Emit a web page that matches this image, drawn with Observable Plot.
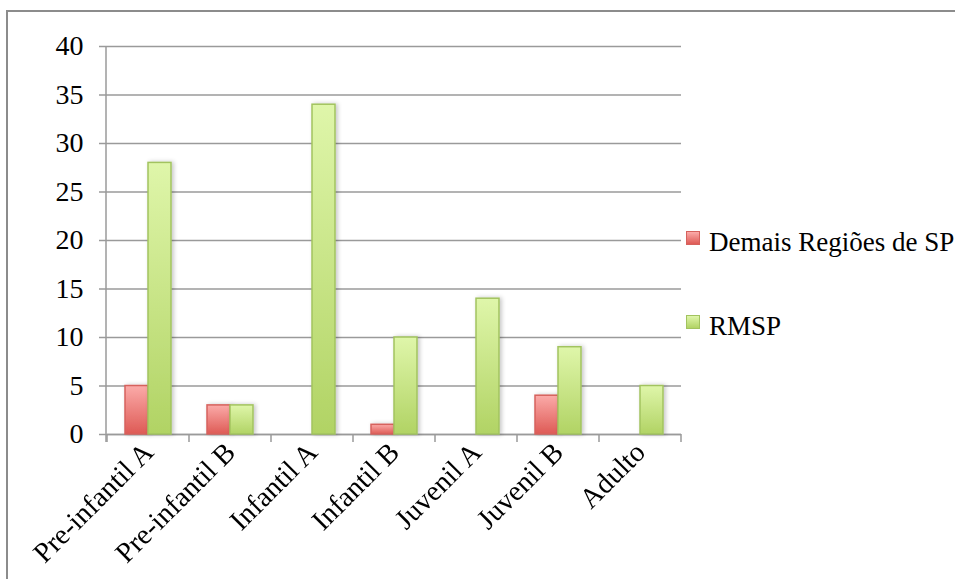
<!DOCTYPE html>
<html>
<head>
<meta charset="utf-8">
<script src="https://cdn.jsdelivr.net/npm/d3@7"></script>
<script src="https://cdn.jsdelivr.net/npm/@observablehq/plot@0.6"></script>
<style>
  html, body { margin: 0; padding: 0; background: #fff; }
  #wrap { position: relative; width: 955px; height: 579px; overflow: hidden;
          font-family: "Liberation Serif", "DejaVu Serif", serif; }
  .border-top { position: absolute; left: 7px; top: 10px; width: 948px; height: 2px; background: #8c8c8c; }
  .border-left { position: absolute; left: 6px; top: 10px; width: 2px; height: 569px; background: #8c8c8c; }
  .legend-item { position: absolute; left: 686px; height: 27px; line-height: 27px; font-size: 27px; color: #000; white-space: nowrap; }
  .legend-item .sw { position: absolute; left: 0; width: 12px; height: 12px; border: 1px solid; }
  .legend-item .lbl { position: absolute; left: 23px; top: 0; }
</style>
</head>
<body>
<div id="wrap"></div>
<script>
// Age categories and the two regions
const categories = ["Pre-infantil A", "Pre-infantil B", "Infantil A", "Infantil B", "Juvenil A", "Juvenil B", "Adulto"];
const series = ["Demais Regiões de SP", "RMSP"];
const demais = [5, 3, 0, 1, 0, 4, 0];
const rmsp = [28, 3, 34, 10, 14, 9, 5];
const yTicks = [0, 5, 10, 15, 20, 25, 30, 35, 40];

// Gradient stops (top, bottom) and outline for each series
const gradients = [
  { id: "grad-red", top: "#fbaba9", bottom: "#de5a55", stroke: "#d6625d" },
  { id: "grad-green", top: "#dff6aa", bottom: "#b1d364", stroke: "#a2c35f" }
];

const rows = (values, s) =>
  categories.map((c, i) => ({ category: c, series: s, value: values[i] })).filter(d => d.value > 0);
const dataDemais = rows(demais, series[0]);
const dataRmsp = rows(rmsp, series[1]);

const gridColor = "#9a9a9a";

const chart = Plot.plot({
  width: 955,
  height: 579,
  marginLeft: 106,
  marginRight: 274,
  marginTop: 46,
  marginBottom: 145,
  style: { fontFamily: "'Liberation Serif', 'DejaVu Serif', serif", fontSize: "27px", background: "transparent", color: "#000", overflow: "visible" },
  fx: { domain: categories, padding: 0, label: null },
  x: { domain: series, paddingInner: 0, paddingOuter: 0.711, axis: null },
  y: { domain: [0, 40], axis: null },
  marks: [
    Plot.gridY(yTicks, { stroke: gridColor, strokeOpacity: 1, strokeWidth: 1.5 }),
    Plot.axisY(yTicks, { tickSize: 8, tickPadding: 16, stroke: gridColor, strokeOpacity: 1, strokeWidth: 1.5, fill: "#000", label: null, fontSize: 28 }),
    Plot.ruleY([0], { stroke: gridColor, strokeWidth: 1.5 }),
    Plot.barY(dataDemais, { fx: "category", x: "series", y: "value", fill: `url(#${gradients[0].id})`, stroke: gradients[0].stroke, strokeWidth: 1.5 }),
    Plot.barY(dataRmsp, { fx: "category", x: "series", y: "value", fill: `url(#${gradients[1].id})`, stroke: gradients[1].stroke, strokeWidth: 1.5 }),
    Plot.axisFx({ anchor: "bottom", tickSize: 0, tickPadding: 13, tickRotate: -45, label: null, fontSize: 28.5, fill: "#000" })
  ]
});

const svg = d3.select(chart);

// Gradient fills and a soft shadow for the bars
const defs = svg.insert("defs", ":first-child");
for (const g of gradients) {
  const lg = defs.append("linearGradient").attr("id", g.id).attr("x1", 0).attr("y1", 0).attr("x2", 0).attr("y2", 1);
  lg.append("stop").attr("offset", "0%").attr("stop-color", g.top);
  lg.append("stop").attr("offset", "100%").attr("stop-color", g.bottom);
}
const shadow = defs.append("filter").attr("id", "bar-shadow").attr("x", "-30%").attr("y", "-10%").attr("width", "160%").attr("height", "120%");
shadow.append("feDropShadow").attr("dx", 2).attr("dy", 0).attr("stdDeviation", 2).attr("flood-color", "#000").attr("flood-opacity", 0.22);
svg.selectAll("g[aria-label='bar']").attr("filter", "url(#bar-shadow)");

// Value axis line and category boundary ticks
const fx = chart.scale("fx");
const y = chart.scale("y");
const x0 = fx.range[0];
const bounds = categories.map(c => fx.apply(c)).concat([fx.apply(categories[categories.length - 1]) + fx.bandwidth]);
const axisG = svg.append("g").attr("stroke", gridColor).attr("stroke-width", 1.5);
axisG.append("line").attr("x1", x0).attr("x2", x0).attr("y1", y.apply(40)).attr("y2", y.apply(0) + 8);
axisG.selectAll("line.b").data(bounds).join("line").attr("class", "b")
  .attr("x1", d => d).attr("x2", d => d).attr("y1", y.apply(0)).attr("y2", y.apply(0) + 8);

const wrap = document.getElementById("wrap");
wrap.appendChild(chart);
chart.style.position = "absolute";
chart.style.left = "0px";
chart.style.top = "0px";

// Frame lines
for (const cls of ["border-top", "border-left"]) {
  const d = document.createElement("div");
  d.className = cls;
  wrap.appendChild(d);
}

// Legend
const legendTops = [229, 313];
series.forEach((s, i) => {
  const g = gradients[i];
  const item = document.createElement("div");
  item.className = "legend-item";
  item.style.top = legendTops[i] + "px";
  const sw = document.createElement("div");
  sw.className = "sw";
  sw.style.top = "2px";
  sw.style.background = `linear-gradient(${g.top}, ${g.bottom})`;
  sw.style.borderColor = g.stroke;
  const lbl = document.createElement("span");
  lbl.className = "lbl";
  lbl.textContent = s;
  item.appendChild(sw);
  item.appendChild(lbl);
  wrap.appendChild(item);
});
</script>
</body>
</html>
